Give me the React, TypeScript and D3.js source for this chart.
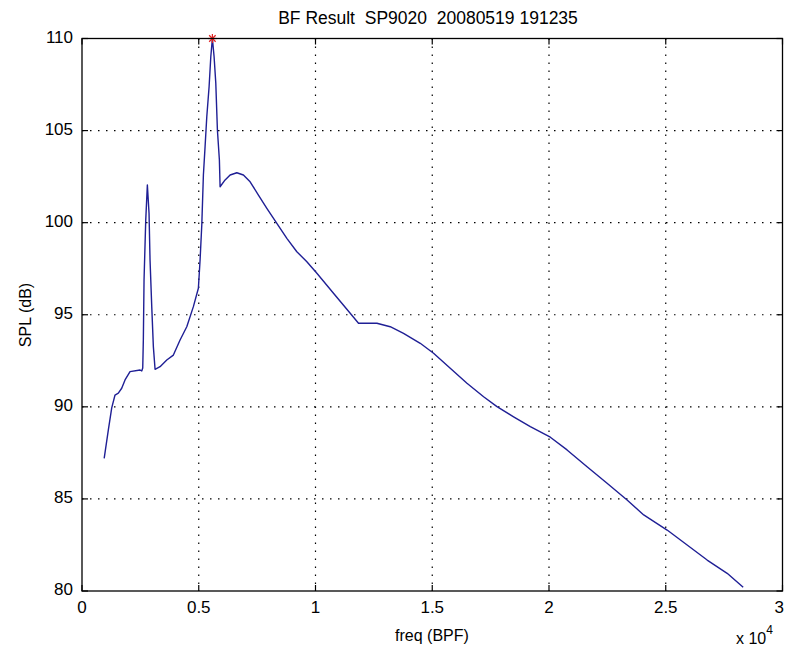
import React from "react";
import * as d3 from "d3";

const titleText = "BF Result  SP9020  20080519 191235";
const xLabel = "freq (BPF)";
const yLabel = "SPL (dB)";

const xTicks = [0, 5000, 10000, 15000, 20000, 25000, 30000];
const xTickLabels = ["0", "0.5", "1", "1.5", "2", "2.5", "3"];
const yTicks = [80, 85, 90, 95, 100, 105, 110];

const freq = [
  950, 1127, 1273, 1414, 1556, 1701, 1843, 2057, 2486, 2559, 2601, 2627, 2657, 2730, 2799,
  2871, 2914, 2987, 3056, 3129, 3343, 3630, 3913, 4200, 4487, 4770, 4984, 5057, 5130, 5199,
  5271, 5344, 5443, 5516, 5584, 5657, 5730, 5799, 5884, 5914, 6129, 6343, 6630, 6913, 7200,
  7556, 7916, 8344, 8773, 9201, 9630, 10059, 10770, 11486, 11842, 12630, 13200, 13770, 14486,
  15056, 15771, 16487, 17199, 17773, 18484, 19200, 20057, 20773, 21630, 22487, 23344, 24056,
  25059, 25916, 26773, 27630, 28316,
];
const spl = [
  87.2, 88.74, 89.94, 90.64, 90.74, 91.01, 91.46, 91.91, 92.0, 91.95, 92.11, 93.63, 96.89, 100.15, 102.05,
  100.51, 97.97, 95.44, 93.27, 92.04, 92.18, 92.54, 92.81, 93.63, 94.35, 95.44, 96.44, 97.97, 99.87, 102.59,
  104.13, 105.75, 107.38, 109.01, 110.0, 109.01, 107.57, 105.03, 103.4, 101.95, 102.32, 102.59, 102.71, 102.59, 102.22,
  101.5, 100.78, 99.96, 99.15, 98.42, 97.88, 97.25, 96.17, 95.08, 94.54, 94.54, 94.35, 93.99, 93.45,
  92.91, 92.09, 91.28, 90.55, 90.01, 89.46, 88.92, 88.35, 87.66, 86.75, 85.85, 84.94, 84.13,
  83.31, 82.5, 81.68, 80.96, 80.2,
];

const peakFreq = [5584];
const peakSpl = [110.0];

export default function App() {
  const W = 785;
  const H = 650;
  const left = 82;
  const right = 782.5;
  const top = 38.5;
  const bottom = 591;
  const x = d3.scaleLinear().domain([0, 30000]).range([left, right]);
  const y = d3.scaleLinear().domain([80, 110]).range([bottom, top]);
  const pts: [number, number][] = freq.map((f, i) => [f, spl[i]]);
  const line = d3
    .line<[number, number]>()
    .x((d) => x(d[0]))
    .y((d) => y(d[1]));
  const font = "'Liberation Sans', Arial, Helvetica, sans-serif";
  const tickLen = 6;
  const gridDash = "1.5,6.5";

  return (
    <svg
      width={W}
      height={H}
      style={{ position: "absolute", left: 0, top: 0, background: "#ffffff" }}
      fontFamily={font}
    >
      <rect x={0} y={0} width={W} height={H} fill="#ffffff" />
      {/* grid */}
      {xTicks.slice(1, -1).map((t) => (
        <line
          key={"gx" + t}
          x1={x(t)}
          x2={x(t)}
          y1={top}
          y2={bottom}
          stroke="#000"
          strokeWidth={1.2}
          strokeDasharray={gridDash}
        />
      ))}
      {yTicks.slice(1, -1).map((t) => (
        <line
          key={"gy" + t}
          x1={left}
          x2={right}
          y1={y(t)}
          y2={y(t)}
          stroke="#000"
          strokeWidth={1.2}
          strokeDasharray={gridDash}
        />
      ))}
      {/* ticks */}
      {xTicks.map((t) => (
        <g key={"tx" + t}>
          <line x1={x(t)} x2={x(t)} y1={bottom} y2={bottom - tickLen} stroke="#000" strokeWidth={1.2} />
          <line x1={x(t)} x2={x(t)} y1={top} y2={top + tickLen} stroke="#000" strokeWidth={1.2} />
        </g>
      ))}
      {yTicks.map((t) => (
        <g key={"ty" + t}>
          <line x1={left} x2={left + tickLen} y1={y(t)} y2={y(t)} stroke="#000" strokeWidth={1.2} />
          <line x1={right} x2={right - tickLen} y1={y(t)} y2={y(t)} stroke="#000" strokeWidth={1.2} />
        </g>
      ))}
      {/* data line */}
      <path d={line(pts) || ""} fill="none" stroke="#1f1f95" strokeWidth={1.4} strokeLinejoin="round" />
      {/* peak marker */}
      {peakFreq.map((f, i) => {
        const cx = x(f);
        const cy = y(peakSpl[i]);
        const r = 4.5;
        const r2 = r * 0.72;
        return (
          <g key={"pk" + i} stroke="#e02020" strokeWidth={1.2}>
            <line x1={cx - r} x2={cx + r} y1={cy} y2={cy} />
            <line x1={cx} x2={cx} y1={cy - r} y2={cy + r} />
            <line x1={cx - r2} x2={cx + r2} y1={cy - r2} y2={cy + r2} />
            <line x1={cx - r2} x2={cx + r2} y1={cy + r2} y2={cy - r2} />
          </g>
        );
      })}
      {/* axes box */}
      <rect x={left} y={top} width={right - left} height={bottom - top} fill="none" stroke="#000" strokeWidth={1.3} />
      {/* tick labels */}
      {xTicks.map((t, i) => {
        const last = i === xTicks.length - 1;
        return (
          <text
            key={"lx" + t}
            x={last ? 784 : x(t)}
            y={613}
            textAnchor={last ? "end" : "middle"}
            fontSize={17}
            fill="#000"
          >
            {xTickLabels[i]}
          </text>
        );
      })}
      {yTicks.map((t) => (
        <text key={"ly" + t} x={73} y={y(t) + 4} textAnchor="end" fontSize={17} fill="#000">
          {t}
        </text>
      ))}
      {/* title and labels */}
      <text
        x={428}
        y={24}
        textAnchor="middle"
        fontSize={17.5}
        fill="#000"
        style={{ whiteSpace: "pre" }}
        xmlSpace="preserve"
      >
        {titleText}
      </text>
      <text x={432} y={641} textAnchor="middle" fontSize={16} fill="#000">
        {xLabel}
      </text>
      <text
        transform={`translate(31,315) rotate(-90)`}
        textAnchor="middle"
        fontSize={16}
        fill="#000"
      >
        {yLabel}
      </text>
      <text x={736} y={644} fontSize={16} fill="#000">
        {"x 10"}
        <tspan dy={-10} fontSize={12}>
          4
        </tspan>
      </text>
    </svg>
  );
}
